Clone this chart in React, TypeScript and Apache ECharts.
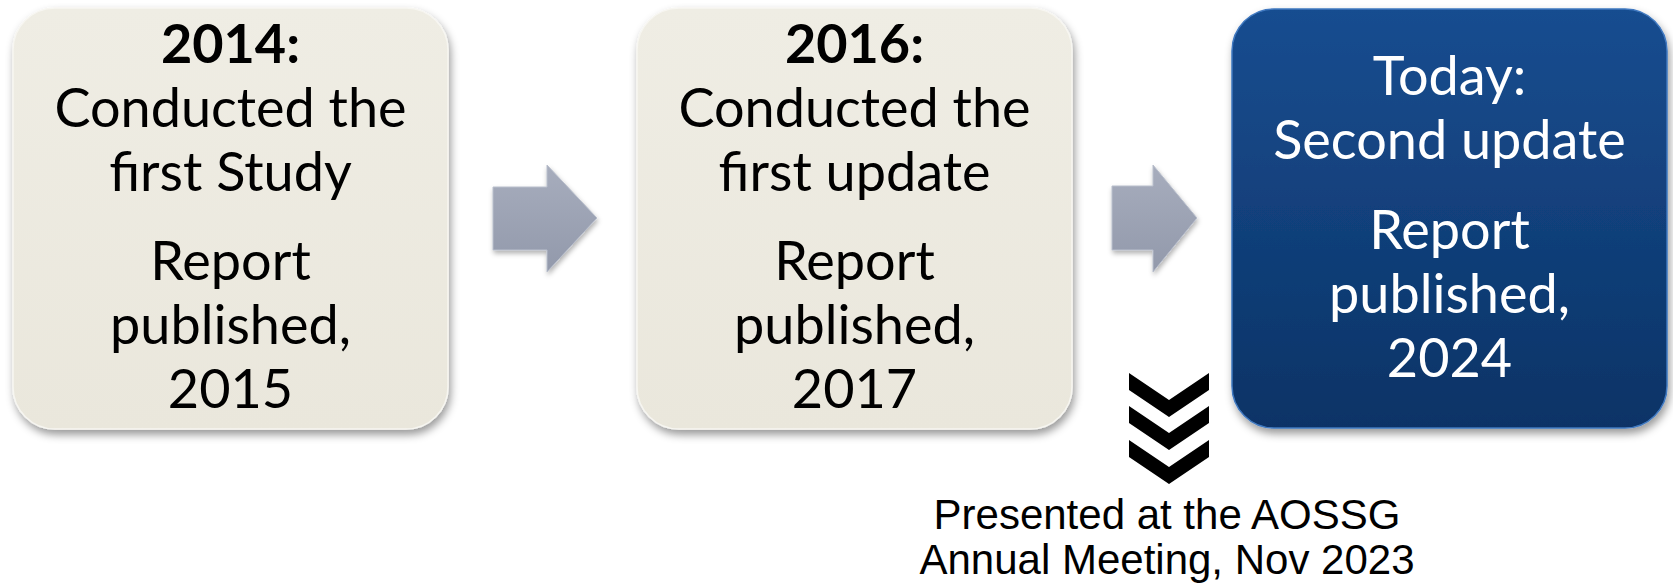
import React, { useEffect, useRef } from "react";
import * as echarts from "echarts";

// ---- content ----
const stageTitles = ["2014:", "2016:", "Today:"];
const stageActions = [
  ["Conducted the", "first Study"],
  ["Conducted the", "first update"],
  ["Second update"],
];
const stageReports = [
  ["Report", "published,", "2015"],
  ["Report", "published,", "2017"],
  ["Report", "published,", "2024"],
];
const noteLines = ["Presented at the AOSSG", "Annual Meeting, Nov 2023"];

// ---- layout ----
const W = 1673;
const H = 584;
const BOXES = [
  { x: 13, y: 8, w: 435, h: 421, dark: false },
  { x: 637, y: 8, w: 435, h: 421, dark: false },
  { x: 1232, y: 9, w: 435, h: 419, dark: true },
];
const BASELINES_LIGHT = [62, 126, 190, 279, 343, 407];
const BASELINES_DARK = [94, 158, 248, 312, 376];
const ARROWS = [
  { x0: 493, xh: 547, xt: 597, st: 187, sb: 250, ht: 165, hb: 272, ty: 218 },
  { x0: 1112, xh: 1153, xt: 1197, st: 186, sb: 250, ht: 165, hb: 272, ty: 218 },
];
const CHEV = { l: 1129, r: 1209, tops: [373, 406, 440], d: 27, h: 17 };
const FS = 54;
const K = 0.36;
const FONT = "Lato, 'Open Sans', sans-serif";
const NOTE_FS = 42;

function buildGraphics() {
  const els: any[] = [];
  BOXES.forEach((b, i) => {
    const fill = b.dark
      ? new echarts.graphic.LinearGradient(0, 0, 0, 1, [
          { offset: 0, color: "#184d90" },
          { offset: 1, color: "#0b3366" },
        ])
      : new echarts.graphic.LinearGradient(0, 0, 0, 1, [
          { offset: 0, color: "#efede4" },
          { offset: 1, color: "#eae7dc" },
        ]);
    els.push({
      type: "rect",
      shape: { x: b.x, y: b.y, width: b.w, height: b.h, r: 42 },
      style: {
        fill,
        stroke: b.dark ? "#3f78c0" : "#f7f6f1",
        lineWidth: 1.5,
        shadowBlur: 8,
        shadowOffsetX: 2,
        shadowOffsetY: 5,
        shadowColor: "rgba(0,0,0,0.4)",
      },
      z: 1,
    });
    const cx = b.x + b.w / 2;
    const lines = [stageTitles[i], ...stageActions[i], ...stageReports[i]];
    const bl = b.dark ? BASELINES_DARK : BASELINES_LIGHT;
    lines.forEach((t, j) => {
      els.push({
        type: "text",
        x: cx,
        y: bl[j] - K * FS,
        style: {
          text: t,
          fill: b.dark ? "#ffffff" : "#000000",
          font: `${!b.dark && j === 0 ? "bold " : ""}${FS}px ${FONT}`,
          align: "center",
          verticalAlign: "middle",
        },
        z: 3,
      });
    });
  });

  ARROWS.forEach((a) => {
    els.push({
      type: "polygon",
      shape: {
        points: [
          [a.x0, a.st],
          [a.xh, a.st],
          [a.xh, a.ht],
          [a.xt, a.ty],
          [a.xh, a.hb],
          [a.xh, a.sb],
          [a.x0, a.sb],
        ],
      },
      style: {
        fill: new echarts.graphic.LinearGradient(0, 0, 0, 1, [
          { offset: 0, color: "#a7adbd" },
          { offset: 1, color: "#9299ab" },
        ]),
        stroke: "#b9bfcc",
        lineWidth: 1,
        shadowBlur: 5,
        shadowOffsetX: 1,
        shadowOffsetY: 3,
        shadowColor: "rgba(0,0,0,0.3)",
      },
      z: 2,
    });
  });

  const cx = (CHEV.l + CHEV.r) / 2;
  CHEV.tops.forEach((t) => {
    els.push({
      type: "polygon",
      shape: {
        points: [
          [CHEV.l, t],
          [cx, t + CHEV.d],
          [CHEV.r, t],
          [CHEV.r, t + CHEV.h],
          [cx, t + CHEV.d + CHEV.h],
          [CHEV.l, t + CHEV.h],
        ],
      },
      style: { fill: "#000000" },
      z: 2,
    });
  });

  const noteBase = [529, 574];
  noteLines.forEach((t, j) => {
    els.push({
      type: "text",
      x: 1167,
      y: noteBase[j] - 0.35 * NOTE_FS,
      style: {
        text: t,
        fill: "#000000",
        font: `${NOTE_FS}px 'Liberation Sans', Arial, sans-serif`,
        align: "center",
        verticalAlign: "middle",
      },
      z: 3,
    });
  });
  return els;
}

export default function App() {
  const ref = useRef<HTMLDivElement>(null);
  useEffect(() => {
    if (!ref.current) return;
    const chart = echarts.init(ref.current, undefined, { renderer: "svg", width: W, height: H });
    chart.setOption({
      animation: false,
      backgroundColor: "#ffffff",
      graphic: { elements: buildGraphics() },
    });
    return () => chart.dispose();
  }, []);
  return (
    <div
      ref={ref}
      style={{ position: "fixed", left: 0, top: 0, width: W, height: H }}
    />
  );
}
